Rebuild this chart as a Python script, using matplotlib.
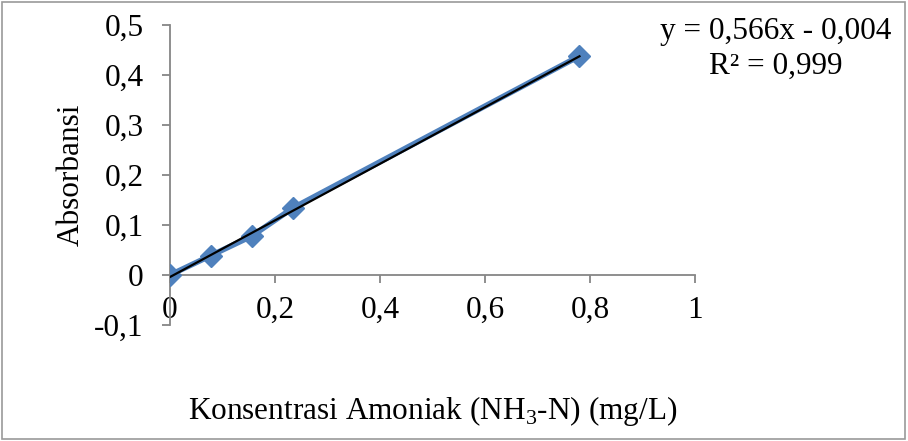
import matplotlib
matplotlib.use("Agg")
import matplotlib.pyplot as plt
from matplotlib.patches import Rectangle
import numpy as np

plt.rcParams['font.family'] = ['Liberation Serif', 'DejaVu Serif']
plt.rcParams['mathtext.fontset'] = 'custom'
plt.rcParams['mathtext.rm'] = 'Liberation Serif'

conc = [0, 0.078, 0.156, 0.234, 0.78]
absorb = [0, 0.039, 0.078, 0.134, 0.438]
slope = 0.566
intercept = -0.004
x_ticks = [0, 0.2, 0.4, 0.6, 0.8, 1]
x_labels = ['0', '0,2', '0,4', '0,6', '0,8', '1']
y_ticks = [-0.1, 0, 0.1, 0.2, 0.3, 0.4, 0.5]
y_labels = ['-0,1', '0', '0,1', '0,2', '0,3', '0,4', '0,5']

FS = 22.5
fig = plt.figure(figsize=(9.08, 4.41), dpi=100)
fig.patches.append(Rectangle((0.002, 0.004), 0.995, 0.992, transform=fig.transFigure,
                             fill=False, edgecolor='#9a9a9a', linewidth=1.2))
ax = fig.add_axes([0.1872, 0.263, 0.7654 - 0.1872, 0.9433 - 0.263])

blue = '#4F81BD'
ax.plot(conc, absorb, color=blue, lw=4, marker='D', markersize=11,
        markerfacecolor=blue, markeredgecolor=blue, zorder=3)
xf = np.array([conc[0], conc[-1]])
ax.plot(xf, slope * xf + intercept, color='black', lw=1.6, zorder=4)

ax.set_xlim(0, 1)
ax.set_ylim(-0.1, 0.5)
ax.set_xticks(x_ticks)
ax.set_xticklabels(x_labels)
ax.set_yticks(y_ticks)
ax.set_yticklabels(y_labels)

for s in ['top', 'right']:
    ax.spines[s].set_visible(False)
ax.spines['bottom'].set_position(('data', 0))
gray = '#868686'
for s in ['left', 'bottom']:
    ax.spines[s].set_color(gray)
    ax.spines[s].set_linewidth(1.3)
ax.tick_params(axis='both', colors=gray, labelcolor='black', labelsize=FS,
               length=6, width=1.3)
ax.tick_params(axis='y', pad=13)
ax.tick_params(axis='x', pad=9)

ax.set_ylabel('Absorbansi', fontsize=FS, labelpad=6)
fig.text(433 / 908, 1 - 411 / 441, 'Konsentrasi Amoniak (NH$_3$-N) (mg/L)',
         ha='center', va='center', fontsize=FS)
fig.text(776 / 908, 1 - 32 / 441, 'y = 0,566x - 0,004', ha='center', va='center', fontsize=FS)
fig.text(776 / 908, 1 - 66 / 441, 'R² = 0,999', ha='center', va='center', fontsize=FS)

fig.savefig('out.png', dpi=100)
